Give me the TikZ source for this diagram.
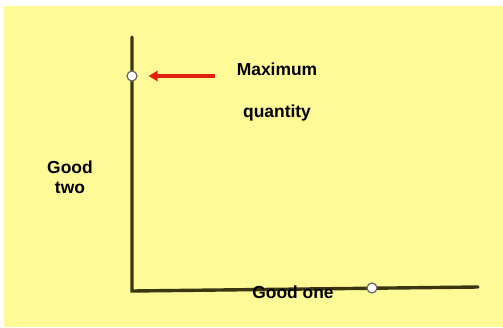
\documentclass[tikz,border=0pt]{standalone}
\usepackage{fontspec}
\setmainfont{Liberation Sans}
\usetikzlibrary{arrows.meta}
\definecolor{bgyellow}{HTML}{FFFA98}
\definecolor{axiscol}{HTML}{3A3612}
\definecolor{arrowred}{HTML}{E0200E}
\tikzset{
  axisline/.style={draw=axiscol, line width=3.4bp, line cap=round},
  dot/.style={circle, draw=gray!80!black, fill=white, line width=1.2bp, minimum size=10bp, inner sep=0pt},
  lbl/.style={font=\fontsize{17.5}{20}\selectfont\bfseries, text=black, align=center, inner sep=0pt},
  redarrow/.style={draw=arrowred, line width=3.6bp, -{Triangle[length=9bp,width=10bp]}}
}
\begin{document}
\begin{tikzpicture}[x=1bp,y=-1bp]
\useasboundingbox (0,0) rectangle (503,327);
\fill[white] (0,0) rectangle (503,327);
\fill[bgyellow] (4,6) rectangle (503,327);
\coordinate (top) at (132,37);
\coordinate (origin) at (132,291);
\coordinate (xend) at (478,287);
\path[axisline] (top) -- (origin) -- (xend);
\node[dot] (ymax) at (132,76) {};
\coordinate (arrstart) at (215,76);
\path[redarrow] (arrstart) -- ([xshift=11bp]ymax.east);
\node[lbl] (maxlbl) at (277,69) {Maximum};
\node[lbl] (qtylbl) at (277,113) {quantity};
\node[lbl] (goodtwo) at (70,177) {Good\\two};
\node[lbl] (goodone) at (293,292) {Good one};
\node[dot] (xmax) at (372,288) {};
\end{tikzpicture}
\end{document}
